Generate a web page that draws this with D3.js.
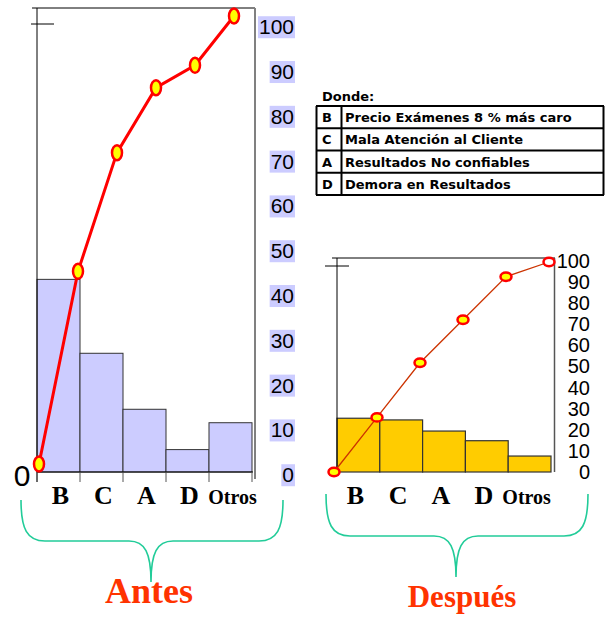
<!DOCTYPE html>
<html>
<head>
<meta charset="utf-8">
<script src="https://cdn.jsdelivr.net/npm/d3@7/dist/d3.min.js"></script>
<style>
  body { margin: 0; background: #fff; }
  svg { display: block; }
</style>
</head>
<body>
<script>
// values (percent)
const categories = ["B", "C", "A", "D", "Otros"];
const antesValues = [43, 26.5, 14, 5, 11];
const antesCumulative = [0, 43, 69.5, 84, 89, 100];
const despuesValues = [25.6, 24.8, 19.5, 14.9, 7.6];
const despuesCumulative = [0, 26, 52, 72.5, 93, 100];
const axisTicks = [0, 10, 20, 30, 40, 50, 60, 70, 80, 90, 100];
const legendKeys = ["B", "C", "A", "D"];
const legendLabels = ["Precio Exámenes 8 % más caro", "Mala Atención al Cliente",
                      "Resultados No confiables", "Demora en Resultados"];

const sans = "'Liberation Sans', Arial, sans-serif";
const serif = "'Liberation Serif', 'Times New Roman', serif";
const tableFont = "'DejaVu Sans', Verdana, sans-serif";

const svg = d3.select("body").append("svg")
    .attr("width", 605)
    .attr("height", 618);

// ---------- Antes ----------
const xA = d3.scaleBand().domain(categories).range([37, 252]);
const xLineA = d3.scaleLinear().domain([0, 5]).range([39, 234]);
const yBarA = d3.scaleLinear().domain([0, 100]).range([472, 24]);
const yLineA = d3.scaleLinear().domain([0, 100]).range([464, 16]);
const yAxA = d3.scaleLinear().domain([0, 100]).range([475, 27]);

const gA = svg.append("g");

// frame
gA.append("line").attr("x1", 32).attr("x2", 255).attr("y1", 8).attr("y2", 8)
    .attr("stroke", "#000").attr("stroke-width", 1);
gA.append("line").attr("x1", 31).attr("x2", 54).attr("y1", 24).attr("y2", 24)
    .attr("stroke", "#000");
gA.append("line").attr("x1", 255).attr("x2", 255).attr("y1", 8).attr("y2", 479)
    .attr("stroke", "#808080").attr("stroke-width", 2);

gA.selectAll("rect.bar").data(antesValues).join("rect")
    .attr("class", "bar")
    .attr("x", (d, i) => xA(categories[i]))
    .attr("width", xA.bandwidth())
    .attr("y", d => yBarA(d))
    .attr("height", d => yBarA(0) - yBarA(d))
    .attr("fill", "#ccccff")
    .attr("stroke", "#333")
    .attr("stroke-width", 1);

gA.append("line").attr("x1", 37).attr("x2", 37).attr("y1", 8).attr("y2", 482)
    .attr("stroke", "#000");
gA.append("line").attr("x1", 37).attr("x2", 253).attr("y1", yBarA(0)).attr("y2", yBarA(0))
    .attr("stroke", "#000");
const edgesA = categories.map(c => xA(c)).concat([xA.range()[1]]);
gA.selectAll("line.tick").data(edgesA).join("line")
    .attr("class", "tick")
    .attr("x1", d => d).attr("x2", d => d)
    .attr("y1", yBarA(0)).attr("y2", yBarA(0) + 10)
    .attr("stroke", "#555");

// cumulative line
gA.append("path").datum(antesCumulative)
    .attr("fill", "none").attr("stroke", "#ff0000").attr("stroke-width", 3)
    .attr("d", d3.line().x((d, i) => xLineA(i)).y(d => yLineA(d)));
gA.selectAll("ellipse").data(antesCumulative).join("ellipse")
    .attr("cx", (d, i) => xLineA(i)).attr("cy", d => yLineA(d))
    .attr("rx", 5).attr("ry", 7.5)
    .attr("fill", "#ffff00").attr("stroke", "#ff0000").attr("stroke-width", 2.5);

// right axis labels with lavender boxes
const axA = gA.append("g").attr("transform", "translate(294,0)")
    .call(d3.axisRight(yAxA).tickValues(axisTicks).tickSize(0).tickPadding(0));
axA.select(".domain").remove();
axA.selectAll("text")
    .attr("text-anchor", "end").attr("x", 0)
    .style("font-family", sans).style("font-size", "21px").attr("fill", "#000");
axA.selectAll(".tick").each(function() {
  const t = d3.select(this).select("text");
  const b = t.node().getBBox();
  d3.select(this).insert("rect", "text")
      .attr("x", b.x - 1).attr("y", b.y + 1)
      .attr("width", b.width + 2).attr("height", b.height - 1)
      .attr("fill", "#ccccff");
});

gA.append("text").attr("x", 22).attr("y", 486)
    .attr("text-anchor", "middle")
    .style("font-family", sans).style("font-size", "30px")
    .text("0");

gA.selectAll("text.cat").data(categories).join("text")
    .attr("class", "cat")
    .attr("x", d => xA(d) + xA.bandwidth() / 2 + 2)
    .attr("y", 504)
    .attr("text-anchor", "middle")
    .style("font-family", serif).style("font-weight", "bold")
    .style("font-size", d => d === "Otros" ? "20px" : "26px")
    .text(d => d);

// ---------- Después ----------
const xD = d3.scaleBand().domain(categories).range([337, 551]);
const xLineD = d3.scaleLinear().domain([0, 5]).range([334, 549]);
const yD = d3.scaleLinear().domain([0, 100]).range([472, 262]);
const yAxD = d3.scaleLinear().domain([0, 100]).range([472, 261]);

const gD = svg.append("g");

gD.append("line").attr("x1", 332).attr("x2", 555).attr("y1", 258).attr("y2", 258)
    .attr("stroke", "#000");
gD.append("line").attr("x1", 325).attr("x2", 349).attr("y1", 266).attr("y2", 266)
    .attr("stroke", "#000");
gD.append("line").attr("x1", 554.5).attr("x2", 554.5).attr("y1", 258).attr("y2", 472)
    .attr("stroke", "#555").attr("stroke-width", 1.5);

gD.selectAll("rect.bar").data(despuesValues).join("rect")
    .attr("class", "bar")
    .attr("x", (d, i) => xD(categories[i]))
    .attr("width", xD.bandwidth())
    .attr("y", d => yD(d))
    .attr("height", d => yD(0) - yD(d))
    .attr("fill", "#ffcc00")
    .attr("stroke", "#333")
    .attr("stroke-width", 1.2);

gD.append("line").attr("x1", 337).attr("x2", 337).attr("y1", 258).attr("y2", 472)
    .attr("stroke", "#000");

gD.append("path").datum(despuesCumulative)
    .attr("fill", "none").attr("stroke", "#cc3300").attr("stroke-width", 1.3)
    .attr("d", d3.line().x((d, i) => xLineD(i)).y(d => yD(d)));
gD.selectAll("ellipse").data(despuesCumulative).join("ellipse")
    .attr("cx", (d, i) => xLineD(i)).attr("cy", d => yD(d))
    .attr("rx", 5.5).attr("ry", 4.2)
    .attr("fill", (d, i) => i === despuesCumulative.length - 1 ? "#ffffff" : "#ffff00")
    .attr("stroke", "#ff0000").attr("stroke-width", 2.5);

const axD = gD.append("g").attr("transform", "translate(590,0)")
    .call(d3.axisRight(yAxD).tickValues(axisTicks).tickSize(0).tickPadding(0));
axD.select(".domain").remove();
axD.selectAll("text")
    .attr("text-anchor", "end").attr("x", 0)
    .style("font-family", sans).style("font-size", "20px").attr("fill", "#000");

gD.selectAll("text.cat").data(categories).join("text")
    .attr("class", "cat")
    .attr("x", d => xD(d) + xD.bandwidth() / 2 - 3)
    .attr("y", 504)
    .attr("text-anchor", "middle")
    .style("font-family", serif).style("font-weight", "bold")
    .style("font-size", d => d === "Otros" ? "20px" : "26px")
    .text(d => d);

// ---------- legend table ----------
const rowY = d3.scaleLinear().domain([0, 4]).range([106, 195]);
const gL = svg.append("g");
gL.append("text").attr("x", 322).attr("y", 101)
    .style("font-family", tableFont)
    .style("font-weight", "bold").style("font-size", "13px")
    .text("Donde:");
gL.selectAll("line.row").data(d3.range(5)).join("line")
    .attr("class", "row")
    .attr("x1", 316).attr("x2", 604)
    .attr("y1", d => rowY(d)).attr("y2", d => rowY(d))
    .attr("stroke", "#000").attr("stroke-width", 2);
[316.5, 341.5, 603.5].forEach(x => {
  gL.append("line").attr("x1", x).attr("x2", x).attr("y1", rowY(0)).attr("y2", rowY(4))
      .attr("stroke", "#000").attr("stroke-width", 2);
});
gL.selectAll("text.key").data(legendKeys).join("text")
    .attr("class", "key")
    .attr("x", 322).attr("y", (d, i) => rowY(i) + 16)
    .style("font-family", tableFont)
    .style("font-weight", "bold").style("font-size", "13px")
    .text(d => d);
gL.selectAll("text.lab").data(legendLabels).join("text")
    .attr("class", "lab")
    .attr("x", 345).attr("y", (d, i) => rowY(i) + 16)
    .style("font-family", tableFont)
    .style("font-weight", "bold").style("font-size", "13px")
    .text(d => d);

// ---------- braces and titles ----------
function brace(x0, x1, xt, yTop, yMid, yTip) {
  const p = d3.path();
  p.moveTo(x0, yTop);
  p.bezierCurveTo(x0, yMid - 12, x0 + 6, yMid, x0 + 24, yMid);
  p.lineTo(xt - 22, yMid);
  p.bezierCurveTo(xt - 6, yMid, xt, yMid + 12, xt, yTip);
  p.bezierCurveTo(xt, yMid + 12, xt + 6, yMid, xt + 22, yMid);
  p.lineTo(x1 - 24, yMid);
  p.bezierCurveTo(x1 - 6, yMid, x1, yMid - 12, x1, yTop);
  return p.toString();
}
svg.append("path").attr("d", brace(21, 283, 151, 500, 541, 582))
    .attr("fill", "none").attr("stroke", "#22cc99").attr("stroke-width", 1.6);
svg.append("path").attr("d", brace(326, 588, 456, 494, 536, 577))
    .attr("fill", "none").attr("stroke", "#22cc99").attr("stroke-width", 1.6);

svg.append("text").attr("x", 149).attr("y", 603)
    .attr("text-anchor", "middle")
    .style("font-family", serif).style("font-weight", "bold").style("font-size", "36px")
    .attr("fill", "#ff3300").text("Antes");
svg.append("text").attr("x", 462).attr("y", 607)
    .attr("text-anchor", "middle")
    .style("font-family", serif).style("font-weight", "bold").style("font-size", "31px")
    .attr("fill", "#ff3300").text("Después");
</script>
</body>
</html>
